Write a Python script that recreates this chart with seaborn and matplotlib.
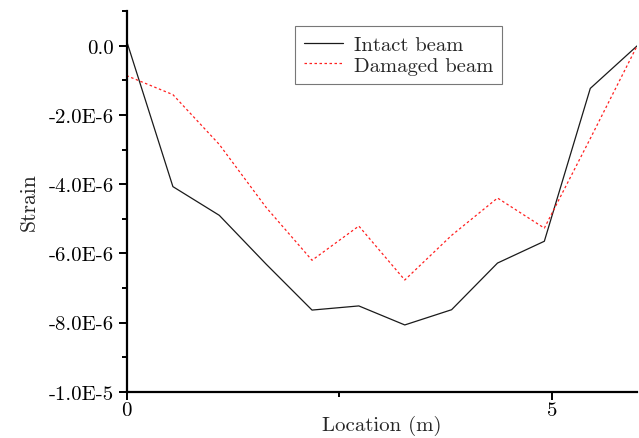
import numpy as np
import pandas as pd
import matplotlib
matplotlib.use("Agg")
import matplotlib.pyplot as plt
import seaborn as sns
from matplotlib.ticker import FixedLocator, FixedFormatter, MultipleLocator

location = [0.0, 0.545, 1.09, 1.64, 2.18, 2.73, 3.27, 3.82, 4.36, 4.91, 5.45, 6.0]
intact = [0.15e-6, -4.07e-6, -4.9e-6, -6.31e-6, -7.64e-6, -7.52e-6,
          -8.07e-6, -7.63e-6, -6.28e-6, -5.65e-6, -1.23e-6, 0.0]
damaged = [-0.86e-6, -1.41e-6, -2.85e-6, -4.67e-6, -6.2e-6, -5.21e-6,
           -6.77e-6, -5.48e-6, -4.4e-6, -5.27e-6, -2.68e-6, 0.0]
series_names = ["Intact beam", "Damaged beam"]
ytick_vals = [0.0, -2e-6, -4e-6, -6e-6, -8e-6, -1e-5]
ytick_labels = ["0.0", "-2.0E-6", "-4.0E-6", "-6.0E-6", "-8.0E-6", "-1.0E-5"]
xtick_vals = [0, 5]
xtick_labels = ["0", "5"]

df = pd.DataFrame({
    "Location": location * 2,
    "Strain": intact + damaged,
    "Series": [series_names[0]] * len(location) + [series_names[1]] * len(location),
})

sns.set_style("ticks")
plt.rcParams["font.family"] = ["cmr10", "DejaVu Serif"]
plt.rcParams["axes.unicode_minus"] = False
plt.rcParams["mathtext.fontset"] = "cm"

fig = plt.figure(figsize=(6.39, 4.39), dpi=100)
ax = fig.add_axes([0.198, 0.1055, 0.799, 0.8665])

sns.lineplot(data=df, x="Location", y="Strain", hue="Series", style="Series",
             palette={series_names[0]: "#1a1a1a", series_names[1]: "#ff2020"},
             dashes={series_names[0]: "", series_names[1]: (2, 2)},
             linewidth=0.9, ax=ax, legend=True)

ax.set_xlim(0, 6)
ax.set_ylim(-1e-5, 1e-6)
ax.yaxis.set_major_locator(FixedLocator(ytick_vals))
ax.yaxis.set_major_formatter(FixedFormatter(ytick_labels))
ax.yaxis.set_minor_locator(MultipleLocator(1e-6))
ax.xaxis.set_major_locator(FixedLocator(xtick_vals))
ax.xaxis.set_major_formatter(FixedFormatter(xtick_labels))
ax.xaxis.set_minor_locator(MultipleLocator(2.5))

for s in ["top", "right"]:
    ax.spines[s].set_visible(False)
for s in ["left", "bottom"]:
    ax.spines[s].set_linewidth(1.6)
    ax.spines[s].set_color("black")
ax.tick_params(which="major", direction="out", length=6, width=1.4, labelsize=15,
               colors="black", pad=3)
ax.tick_params(axis="x", which="major", pad=1)
ax.tick_params(which="minor", direction="out", length=3.5, width=1.4, colors="black")

ax.set_xlabel("Location (m)", fontsize=15, labelpad=-3)
ax.set_ylabel("Strain", fontsize=15.5, labelpad=7)

leg = ax.legend(loc="upper left", bbox_to_anchor=(0.33, 0.961), fontsize=14.8,
                frameon=True, fancybox=False, edgecolor="#555555",
                handlelength=1.9, handletextpad=0.5, borderpad=0.45,
                labelspacing=0.12, borderaxespad=0)
leg.get_frame().set_linewidth(0.8)

fig.savefig("out.png", dpi=100)
